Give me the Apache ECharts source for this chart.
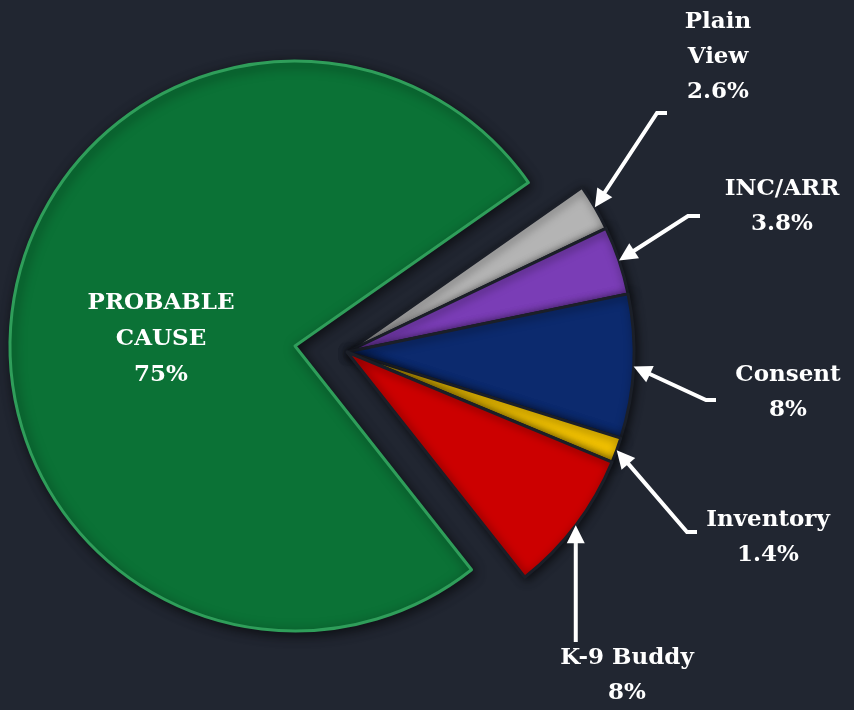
<!DOCTYPE html>
<html>
<head>
<meta charset="utf-8">
<script src="https://cdn.jsdelivr.net/npm/echarts@6/dist/echarts.min.js"></script>
<style>
  html, body { margin: 0; padding: 0; background: #212631; }
  #chart { width: 854px; height: 710px; }
</style>
</head>
<body>
<div id="chart"></div>
<script>
// main slice
const mainName = 'PROBABLE\nCAUSE'
const mainValue = 75
// the smaller slices, clockwise from the top
const smallNames = ['Plain\nView', 'INC/ARR', 'Consent', 'Inventory', 'K-9 Buddy']
const smallValues = [2.6, 3.8, 8, 1.4, 8]
const smallColors = ['#b4b4b4', '#7a3db6', '#0c2a6e', '#f0c000', '#cc0000']

// where the outside labels sit, and the bend of each arrow
const labelBoxes = [[718, 57], [782, 207], [788, 393], [768, 538], [627, 676]]
const bends = [[657, 113], [688, 216], [706, 400], [687, 532], [null, 642]]
const tails = [10, 12, 10, 10, 0]

const font = 'DejaVu Serif'
const smallSum = smallValues.reduce((a, b) => a + b, 0)
const hidden = {
  itemStyle: { color: 'transparent', borderWidth: 0, shadowBlur: 0 },
  label: { show: false },
  labelLine: { show: false },
  emphasis: { disabled: true },
}

const chart = echarts.init(document.getElementById('chart'))
const tips = []
const heads = []
const headLen = 18
const headHalf = 9

const layoutLabel = (params) => {
  const i = params.dataIndex
  if (i >= smallNames.length || !params.labelLinePoints) return
  if (!tips[i]) tips[i] = params.labelLinePoints[0].slice()
  const tip = tips[i]
  const bend = [bends[i][0] == null ? tip[0] : bends[i][0], bends[i][1]]
  const end = [bend[0] + tails[i], bend[1]]
  let dx = tip[0] - bend[0]
  let dy = tip[1] - bend[1]
  const len = Math.sqrt(dx * dx + dy * dy)
  dx /= len
  dy /= len
  const base = [tip[0] - dx * headLen, tip[1] - dy * headLen]
  heads[i] = [tip, [base[0] - dy * headHalf, base[1] + dx * headHalf], [base[0] + dy * headHalf, base[1] - dx * headHalf]]
  const start = [tip[0] - dx * (headLen - 2), tip[1] - dy * (headLen - 2)]
  return {
    x: labelBoxes[i][0],
    y: labelBoxes[i][1],
    align: 'center',
    verticalAlign: 'middle',
    labelLinePoints: [start, bend, end],
  }
}

chart.setOption({
  backgroundColor: '#212631',
  animation: false,
  series: [
    {
      type: 'pie',
      center: [295, 346],
      radius: 285,
      startAngle: 35,
      clockwise: true,
      avoidLabelOverlap: false,
      data: [
        Object.assign({ value: smallSum, name: '' }, hidden),
        {
          value: mainValue,
          name: mainName,
          itemStyle: {
            color: '#0b7236',
            borderColor: '#2f9e5a',
            borderWidth: 3,
            shadowBlur: 12,
            shadowColor: 'rgba(0, 0, 0, 0.6)',
            shadowOffsetX: 2,
            shadowOffsetY: 3,
          },
          label: {
            show: true,
            position: 'inside',
            formatter: (p) => p.name + '\n' + p.value + '%',
            color: '#ffffff',
            fontFamily: font,
            fontWeight: 'bold',
            fontSize: 23,
            lineHeight: 36,
            textBorderWidth: 0,
            offset: [10, 14],
          },
        },
      ],
    },
    {
      type: 'pie',
      center: [347, 352],
      radius: 287,
      startAngle: 35,
      clockwise: true,
      avoidLabelOverlap: false,
      labelLayout: layoutLabel,
      label: {
        show: true,
        position: 'outside',
        formatter: (p) => p.name + '\n' + p.value + '%',
        color: '#ffffff',
        fontFamily: font,
        fontWeight: 'bold',
        fontSize: 23,
        lineHeight: 35,
        align: 'center',
      },
      labelLine: {
        show: true,
        length: 20,
        length2: 10,
        lineStyle: { color: '#ffffff', width: 4 },
      },
      data: smallNames.map((name, i) => ({
        name,
        value: smallValues[i],
        itemStyle: {
          color: smallColors[i],
          borderColor: '#1b1f28',
          borderWidth: 3,
          shadowBlur: 10,
          shadowColor: 'rgba(0, 0, 0, 0.6)',
          shadowOffsetX: 2,
          shadowOffsetY: 2,
        },
      })).concat([Object.assign({ value: mainValue, name: ' ' }, hidden)]),
    },
  ],
})

chart.setOption({
  graphic: heads.filter(Boolean).map((pts) => ({
    type: 'polygon',
    z: 100,
    shape: { points: pts },
    style: { fill: '#ffffff' },
  })),
})
</script>
</body>
</html>
